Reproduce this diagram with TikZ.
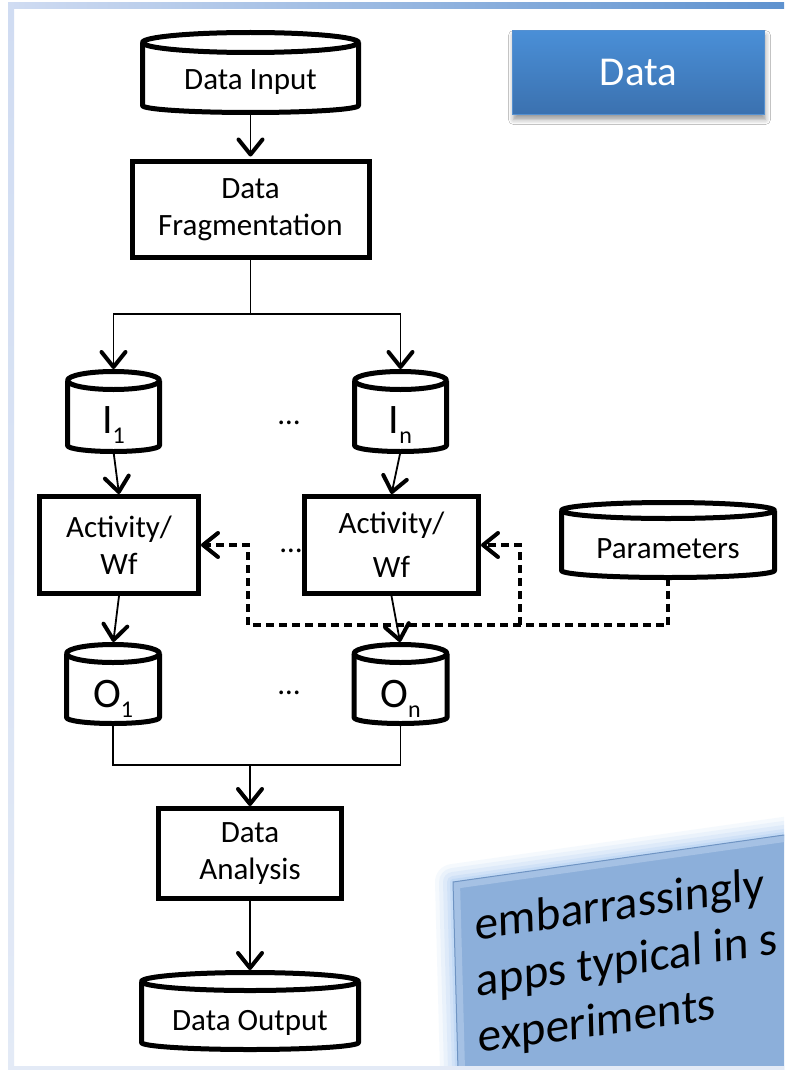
\documentclass[tikz,border=0pt]{standalone}
\usepackage{fontspec}
\setmainfont{Carlito}
\usetikzlibrary{arrows.meta,shadows.blur}

\definecolor{frameL}{HTML}{D0DCF2}
\definecolor{frameR}{HTML}{5E92CF}
\definecolor{frameB}{HTML}{E3EAF6}
\definecolor{dataTop}{HTML}{4A8FD7}
\definecolor{dataBot}{HTML}{3B71AF}
\definecolor{dataEdge}{HTML}{5590D0}
\definecolor{noteFill}{HTML}{8CAFDA}
\definecolor{noteBevel}{HTML}{AAC5E6}
\definecolor{noteEdge}{HTML}{6F94C3}
\definecolor{noteHalo}{HTML}{A3C8F2}

% outline of a storage cylinder around a node: name, x radius, top y radius, bottom y radius
\newcommand\cylinderoutline[4]{%
  \draw[cylline] ([yshift=-#3pt]#1.north west) -- ([yshift=#4pt]#1.south west)
    arc[start angle=180, end angle=360, x radius=#2pt, y radius=#4pt]
    -- ([yshift=-#3pt]#1.north east);
  \draw[cylline] ([yshift=-#3pt]#1.north) ellipse[x radius=#2pt, y radius=#3pt];
}
% letter with a lowered index
\newcommand\idx[2]{#1\raisebox{-10pt}{\fontsize{24}{24}\selectfont #2}}

\begin{document}
\begin{tikzpicture}[x=1pt, y=-1pt,
  every node/.style={inner sep=0pt, outer sep=0pt, font=\fontsize{31}{37}\selectfont},
  proc/.style={draw, line width=5pt, outer sep=2.5pt, align=center},
  cylnode/.style={text height=#1, text depth=0pt},
  cylline/.style={line width=5pt, line join=round},
  link/.style={line width=1.8pt},
  tip/.style={-{Straight Barb[length=15pt, width=24pt, line width'=4pt, round]}},
  arr/.style={link, tip},
  dashlink/.style={line width=3.2pt, dash pattern=on 8pt off 5pt, tip},
  bigsym/.style={font=\fontsize{42}{42}\selectfont},
  databox/.style={minimum width=252pt, minimum height=84pt,
    top color=dataTop, bottom color=dataBot, draw=dataEdge, line width=0.8pt,
    text=white, font=\fontsize{41}{41}\selectfont,
    blur shadow={shadow xshift=1pt, shadow yshift=-5pt, shadow blur radius=5pt, shadow opacity=40}},
  notetext/.style={anchor=base west, align=left, transform shape, font=\fontsize{47.5}{56.5}\selectfont}
]
\useasboundingbox (0,0) rectangle (784,1070);
\fill[white] (0,0) rectangle (784,1070);

% slide frame
\shade[left color=frameL, right color=frameR] (8,3) rectangle (784,9);
\shade[top color=frameL, bottom color=frameB] (8,3) rectangle (14,1070);

% tilted note in the lower right corner
\begin{scope}
  \clip (0,0) rectangle (784,1070);
  \begin{scope}[cm={0.990,0.1406,-0.0266,0.9996,(453pt,-882pt)}]
    \foreach \w/\o in {36/0.10, 28/0.13, 20/0.17, 12/0.22, 6/0.3}
      \draw[noteHalo, line width=\w pt, opacity=\o, line join=round]
        (0,0) -- (420,0) -- (420,260) -- (0,260) -- cycle;
    \fill[noteFill] (0,0) -- (420,0) -- (420,260) -- (0,260) -- cycle;
    \begin{scope}
      \clip (0,0) -- (420,0) -- (420,260) -- (0,260) -- cycle;
      \draw[noteBevel, line width=14pt, opacity=0.85]
        (0,0) -- (420,0) -- (420,260) -- (0,260) -- cycle;
    \end{scope}
    \draw[noteEdge, line width=1pt] (0,0) -- (420,0) -- (420,260) -- (0,260) -- cycle;
    % the base anchor of this node sits on its last line
    \node[notetext] (note) at (21,174) {embarrassingly\\apps typical in s\\experiments};
  \end{scope}
\end{scope}
\fill[frameB] (8,1066) rectangle (784,1070);

% title tag
\node[databox] (datatag) at (638.5,72.5) {Data};

% storage cylinders
\node[minimum width=216pt, minimum height=80pt, cylnode=35pt] (din) at (250.5,72.5) {Data Input};
\node[minimum width=92pt, minimum height=80pt, cylnode=43pt, bigsym] (i1) at (113.5,411.5) {\idx{I}{1}};
\node[minimum width=92pt, minimum height=80pt, cylnode=43pt, bigsym] (in) at (400.5,411.5) {\idx{I}{n}};
\node[minimum width=213pt, minimum height=75pt, cylnode=36pt] (params) at (668,540) {Parameters};
\node[minimum width=93pt, minimum height=79pt, cylnode=46pt, bigsym] (o1) at (113,684) {\idx{O}{1}};
\node[minimum width=93pt, minimum height=79pt, cylnode=46pt, bigsym] (on) at (400.5,684) {\idx{O}{n}};
\node[minimum width=217pt, minimum height=77pt, cylnode=38pt] (dout) at (250,1011) {Data Output};
\cylinderoutline{din}{108}{10}{7}
\cylinderoutline{i1}{46}{9}{6}
\cylinderoutline{in}{46}{9}{6}
\cylinderoutline{params}{106.5}{8}{7}
\cylinderoutline{o1}{46.5}{9}{6}
\cylinderoutline{on}{46.5}{9}{6}
\cylinderoutline{dout}{108.5}{9}{7}

% processing steps
\node[proc, minimum width=237pt, minimum height=96pt] (frag) at (250.5,209.5) {Data\\Fragmentation};
\node[proc, minimum width=159pt, minimum height=97pt] (act1) at (119,545) {Activity/\\Wf};
\node[proc, minimum width=174pt, minimum height=97pt] (act2) at (391.5,545) {Activity/\\[7pt]Wf};
\node[proc, minimum width=183pt, minimum height=90pt] (ana) at (250,853.5) {Data\\Analysis};

% ellipses between the parallel branches
\node[anchor=base] (dotsI) at (289,424) {…};
\node[anchor=base] (dotsA) at (291,552) {…};
\node[anchor=base] (dotsO) at (289,694) {…};

% data flow
\coordinate (split) at (250.5,314);
\coordinate (join) at (250,765);
\draw[arr, shorten >=2.5pt] (din.south) -- (frag.north);
\draw[link] (frag.south) -- (split);
\draw[arr, shorten >=2.5pt] (split) -| (i1.north);
\draw[arr, shorten >=2.5pt] (split) -| (in.north);
\draw[arr] (i1.south) -- (act1.north);
\draw[arr] (in.south) -- (act2.north);
\draw[arr, shorten >=2.5pt] (act1.south) -- (o1.north);
\draw[arr, shorten >=2.5pt] (act2.south) -- (on.north);
\draw[link] (o1.south) |- (join) -| (on.south);
\draw[arr] (join) -- (ana.north);
\draw[arr, shorten >=2.5pt] (ana.south) -- (dout.north);

% parameter feed
\coordinate (feedL) at (248,625);
\coordinate (feedR) at (520,625);
\draw[dashlink] (params.south) |- (feedL) |- (act1.east);
\draw[dashlink] (feedR) |- (act2.east);
\end{tikzpicture}
\end{document}
